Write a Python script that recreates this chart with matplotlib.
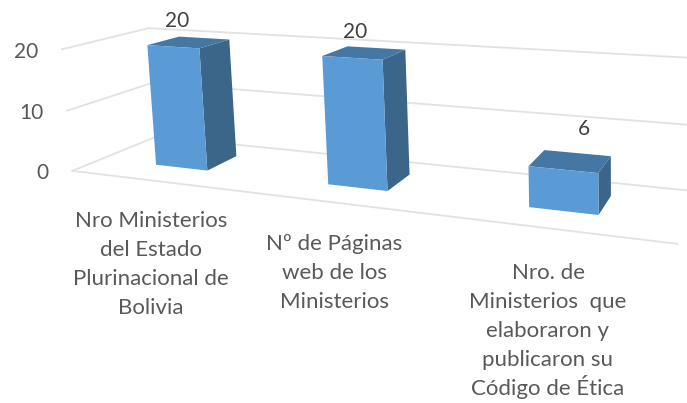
import numpy as np
import matplotlib
matplotlib.use("Agg")
import matplotlib.pyplot as plt

# --- data ---
categories = [["Nro Ministerios", "del Estado", "Plurinacional de", "Bolivia"],
              ["Nº de Páginas", "web de los", "Ministerios"],
              ["Nro. de", "Ministerios  que", "elaboraron y", "publicaron su", "Código de Ética"]]
values = [20, 20, 6]
y_ticks = [0, 10, 20]

# --- camera calibration: wall corners (x, value, depth) -> pixel ---
cal_world = [(0,0,0),(0,10,0),(0,20,0),(0,0,1),(0,10,1),(0,20,1),(3,0,0),(3,0,1),(3,20,1)]
cal_pixel = [(75,170),(67,111),(60,48),(155,137),(150,84),(152,28),(677,246),(699,189),(699,59)]

A = []
for (X,Y,Z),(u,v) in zip(cal_world, cal_pixel):
    A.append([X,Y,Z,1,0,0,0,0,-u*X,-u*Y,-u*Z,-u])
    A.append([0,0,0,0,X,Y,Z,1,-v*X,-v*Y,-v*Z,-v])
P = np.linalg.svd(np.array(A, float))[2][-1].reshape(3,4)

def proj(x, y, z):
    h = P @ np.array([x, y, z, 1.0])
    return h[0]/h[2], h[1]/h[2]

W, H = 687, 403
plt.rcParams["font.family"] = ["Lato", "DejaVu Sans"]
fig = plt.figure(figsize=(W/100, H/100), dpi=100)
ax = fig.add_axes([0, 0, 1, 1])
ax.set_xlim(0, W); ax.set_ylim(H, 0); ax.axis("off")

grid_c = "#e2e2e2"
for t in y_ticks:
    pts = [proj(0,t,0), proj(0,t,1), proj(3,t,1)]
    ax.plot(*zip(*pts), color=grid_c, lw=1.3, zorder=1, solid_joinstyle="round")
    u, v = proj(0,t,0)
    ax.text(u-24, v+2.5, str(t), ha="right", va="center", fontsize=15, color="#595959")
ax.plot(*zip(proj(0,0,0), proj(3,0,0)), color=grid_c, lw=1.3, zorder=1)

half = 0.155; z0, z1 = 0.33, 0.72
front_c, side_c, top_c = "#5b9bd5", "#3b6589", "#4577a5"
data_label_pos = [(177, 21), (355, 32), (584, 129)]
centers = [0.495, 1.485, 2.48]
for i, val in enumerate(values):
    cx = centers[i]
    a, b = cx-half, cx+half
    front = [proj(a,0,z0), proj(b,0,z0), proj(b,val,z0), proj(a,val,z0)]
    side  = [proj(b,0,z0), proj(b,0,z1), proj(b,val,z1), proj(b,val,z0)]
    top   = [proj(a,val,z0), proj(b,val,z0), proj(b,val,z1), proj(a,val,z1)]
    ax.fill(*zip(*side), color=side_c, zorder=3, lw=0)
    ax.fill(*zip(*top), color=top_c, zorder=3, lw=0)
    ax.fill(*zip(*front), color=front_c, zorder=4, lw=0)
    u, v = data_label_pos[i]
    ax.text(u, v, str(val), ha="center", va="center", fontsize=15, color="#404040")

label_pos = [(151, 227), (334, 250), (548, 279)]
line_step = 29
for lines, (u, v) in zip(categories, label_pos):
    for k, line in enumerate(lines):
        ax.text(u, v + k*line_step, line, ha="center", va="baseline", fontsize=16, color="#595959")

fig.savefig("out.png", dpi=100)
